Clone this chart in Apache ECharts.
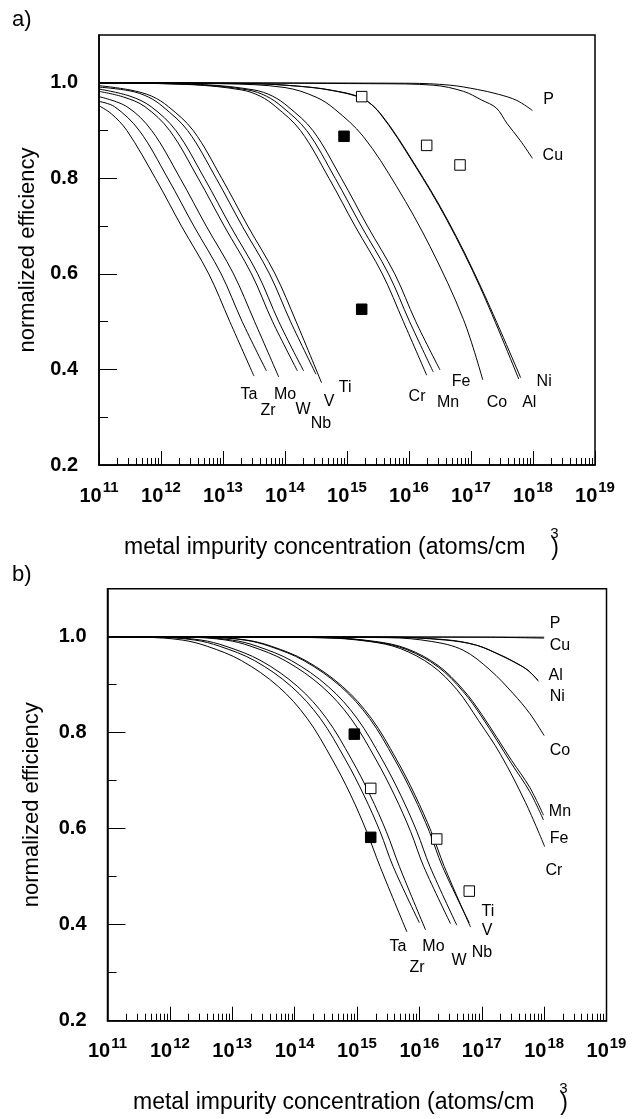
<!DOCTYPE html>
<html>
<head>
<meta charset="utf-8">
<script src="https://cdn.jsdelivr.net/npm/echarts@6/dist/echarts.min.js"></script>
<style>
html, body { margin: 0; padding: 0; background: #fff; }
#chart { width: 635px; height: 1119px; }
</style>
</head>
<body>
<div id="chart"></div>
<script>
// points are [log10(concentration in atoms/cm3), normalized efficiency]

// ---- panel a ----
const aTa = [[11,0.952],[11.2,0.935],[11.45,0.9],[11.91,0.8],[12.33,0.7],[12.77,0.6],[13.11,0.5],[13.5,0.386]];
const aZr = [[11,0.961],[11.25,0.95],[11.65,0.9],[12.11,0.8],[12.53,0.7],[12.97,0.6],[13.31,0.5],[13.7,0.397]];
const aMo = [[11,0.971],[11.45,0.95],[11.85,0.9],[12.31,0.8],[12.73,0.7],[13.17,0.6],[13.51,0.5],[13.9,0.384]];
const aW  = [[11,0.982],[11.4,0.97],[11.74,0.95],[12.14,0.9],[12.6,0.8],[13.02,0.7],[13.46,0.6],[13.8,0.5],[14.2,0.397]];
const aNb = [[11,0.987],[11.5,0.972],[11.84,0.95],[12.24,0.9],[12.7,0.8],[13.12,0.7],[13.56,0.6],[13.9,0.5],[14.3,0.397]];
const aV  = [[11,0.991],[11.5,0.983],[11.8,0.97],[12.03,0.95],[12.43,0.9],[12.89,0.8],[13.31,0.7],[13.75,0.6],[14.09,0.5],[14.5,0.39]];
const aTi = [[11,0.994],[11.5,0.985],[11.85,0.972],[12.12,0.95],[12.52,0.9],[12.98,0.8],[13.4,0.7],[13.84,0.6],[14.18,0.5],[14.59,0.372]];
const aCr = [[11,1.0],[12.5,0.996],[13.3,0.985],[13.6,0.972],[13.85,0.95],[14.25,0.9],[14.71,0.8],[15.13,0.7],[15.57,0.6],[15.91,0.5],[16.285,0.388]];
const aMn = [[11,1.0],[12.6,0.996],[13.4,0.985],[13.7,0.972],[13.95,0.95],[14.35,0.9],[14.81,0.8],[15.23,0.7],[15.67,0.6],[16.01,0.5],[16.39,0.395]];
const aFe = [[11,1.0],[12.7,0.996],[13.5,0.985],[13.8,0.972],[14.05,0.95],[14.45,0.9],[14.91,0.8],[15.33,0.7],[15.77,0.6],[16.11,0.5],[16.5,0.399]];
const aCo = [[11,1.0],[13.0,0.998],[14.0,0.99],[14.5,0.97],[14.8,0.945],[15.26,0.888],[15.8,0.783],[16.34,0.657],[16.88,0.504],[17.19,0.378]];
const aAl = [[11,1.0],[13.5,0.998],[14.2,0.993],[14.726,0.985],[15.237,0.968],[15.53,0.936],[16.07,0.832],[16.61,0.713],[17.145,0.573],[17.77,0.38]];
const aNi = [[11,1.0],[13.5,0.998],[14.2,0.993],[14.75,0.984],[15.26,0.966],[15.55,0.934],[16.09,0.83],[16.63,0.711],[17.165,0.571],[17.8,0.383]];
const aP  = [[11,1.0],[16,0.999],[16.66,0.995],[17.1,0.986],[17.44,0.976],[17.74,0.963],[17.99,0.942]];
const aCu = [[11,1.0],[15.5,0.998],[16.39,0.995],[16.88,0.982],[17.17,0.964],[17.41,0.947],[17.58,0.915],[17.79,0.88],[17.99,0.842]];
const aOpen   = [[15.237,0.971],[16.285,0.869],[16.823,0.828]];
const aFilled = [[14.952,0.888],[15.237,0.526]];
const aLabelNames = ['Ta','Zr','Mo','W','Nb','V','Ti','Cr','Mn','Fe','Co','Al','Ni','P','Cu'];
const aLabelAt = [[13.42,0.347],[13.726,0.313],[14.0,0.347],[14.29,0.315],[14.58,0.286],[14.71,0.332],[14.97,0.361],
                  [16.13,0.344],[16.63,0.33],[16.84,0.374],[17.42,0.33],[17.94,0.33],[18.18,0.374],[18.25,0.965],[18.32,0.847]];

// ---- panel b ----
const bTa = [[11,1],[11.6,0.999],[12.2,0.993],[12.6,0.98],[13.15,0.95],[13.74,0.896],[14.2,0.83],[14.6,0.745],[14.9,0.67],[15.155,0.594],[15.37,0.521],[15.8,0.385]];
const bZr = [[11,1],[11.8,0.999],[12.4,0.993],[12.8,0.98],[13.36,0.95],[13.95,0.896],[14.41,0.83],[14.81,0.745],[15.11,0.67],[15.37,0.594],[15.58,0.521],[16.0,0.404]];
const bMo = [[11,1],[11.9,0.999],[12.5,0.993],[12.9,0.98],[13.46,0.95],[14.05,0.896],[14.51,0.83],[14.91,0.745],[15.21,0.67],[15.47,0.594],[15.68,0.521],[16.1,0.389]];
const bW  = [[11,1],[12.3,0.999],[12.9,0.993],[13.3,0.98],[13.85,0.95],[14.44,0.896],[14.9,0.83],[15.3,0.745],[15.6,0.67],[15.86,0.594],[16.07,0.521],[16.5,0.402]];
const bNb = [[11,1],[12.4,0.999],[13.0,0.993],[13.4,0.98],[13.95,0.95],[14.54,0.896],[15.0,0.83],[15.4,0.745],[15.7,0.67],[15.96,0.594],[16.17,0.521],[16.6,0.399]];
const bV  = [[11,1],[12.6,0.999],[13.2,0.993],[13.6,0.98],[14.15,0.95],[14.74,0.896],[15.2,0.83],[15.6,0.745],[15.9,0.67],[16.16,0.594],[16.37,0.521],[16.8,0.404]];
const bTi = [[11,1],[12.63,0.999],[13.23,0.993],[13.63,0.98],[14.18,0.95],[14.77,0.896],[15.23,0.83],[15.63,0.745],[15.93,0.67],[16.19,0.594],[16.4,0.521],[16.82,0.395]];
const bCr = [[11,1],[14.4,0.998],[15.2,0.99],[15.7,0.975],[16.2,0.94],[16.6,0.89],[16.95,0.825],[17.3,0.755],[17.7,0.655],[18.01,0.5625]];
const bMn = [[11,1],[14.5,0.998],[15.3,0.99],[15.8,0.975],[16.3,0.94],[16.7,0.89],[17.0,0.838],[17.48,0.742],[17.77,0.686],[17.99,0.628]];
const bFe = [[11,1],[14.5,0.998],[15.3,0.989],[15.8,0.973],[16.3,0.937],[16.7,0.886],[17.0,0.833],[17.48,0.735],[17.77,0.677],[17.99,0.618]];
const bCo = [[11,1],[15.5,0.998],[16.2,0.99],[16.7,0.972],[17.13,0.931],[17.5,0.882],[17.77,0.84],[18.0,0.794]];
const bAl = [[11,1],[15.5,0.999],[16.4,0.994],[16.9,0.983],[17.3,0.962],[17.5,0.949],[17.72,0.932],[17.9,0.91]];
const bNi = [[11,1],[15.5,0.999],[16.42,0.993],[16.92,0.982],[17.32,0.96],[17.52,0.947],[17.74,0.93],[17.91,0.907]];
const bP  = [[11,1],[18,0.999]];
const bCu = [[11,1],[17,0.999],[18,0.997]];
const bOpen   = [[15.22,0.684],[16.278,0.5785],[16.8,0.47]];
const bFilled = [[14.957,0.797],[15.22,0.582]];
const bLabelNames = ['Ta','Zr','Mo','W','Nb','V','Ti','P','Cu','Al','Ni','Co','Mn','Fe','Cr'];
const bLabelAt = [[15.657,0.354],[15.962,0.31],[16.226,0.354],[16.635,0.326],[17.004,0.341],[17.084,0.387],[17.1,0.427],
                  [18.174,1.028],[18.254,0.981],[18.186,0.918],[18.211,0.875],[18.254,0.7625],[18.254,0.635],[18.238,0.58],[18.158,0.5125]];

// axis ticks
const xDecades = [1e11,1e12,1e13,1e14,1e15,1e16,1e17,1e18,1e19];
const yMajor = [0.2,0.4,0.6,0.8,1.0];
const yMinor = [0.3,0.5,0.7,0.9];

const FONT = "'Liberation Sans', Arial, Helvetica, sans-serif";
const xMinor = [];
for (let e = 11; e < 19; e++) for (let k = 2; k <= 9; k++) xMinor.push(k * Math.pow(10, e));

const toXY = pts => pts.map(p => [Math.pow(10, p[0]), p[1]]);

function curve(pts, gi) {
  return {
    type: 'line', xAxisIndex: gi * 2, yAxisIndex: gi * 2,
    data: toXY(pts), smooth: 0.35, symbol: 'none', silent: true,
    lineStyle: { color: '#000', width: 1 }, z: 3
  };
}
function squares(pts, gi, filled) {
  return {
    type: 'scatter', xAxisIndex: gi * 2, yAxisIndex: gi * 2,
    data: toXY(pts), symbol: 'rect', symbolSize: 10.5, silent: true, z: 5,
    itemStyle: { color: filled ? '#000' : '#fff', borderColor: '#000', borderWidth: 1, opacity: 1 }
  };
}
function labels(names, at, gi) {
  return {
    type: 'scatter', xAxisIndex: gi * 2, yAxisIndex: gi * 2, symbolSize: 0, silent: true, z: 6,
    itemStyle: { opacity: 1 },
    data: names.map((n, i) => ({ name: n, value: [Math.pow(10, at[i][0]), at[i][1]] })),
    label: { show: true, position: 'inside', formatter: p => p.name, color: '#000', fontSize: 16, fontFamily: FONT }
  };
}

function xAxes(gi) {
  return [{
    type: 'log', gridIndex: gi, min: 1e11, max: 1e19, position: 'bottom',
    axisLine: { show: true, lineStyle: { color: '#000', width: 1.5 } },
    axisTick: { show: true, inside: true, length: 14, customValues: xDecades, lineStyle: { color: '#000', width: 1 } },
    axisLabel: {
      show: true, customValues: xDecades, margin: 13,
      formatter: v => '{b|10}{s|' + Math.round(Math.log10(v)) + '}',
      rich: {
        b: { fontSize: 20, fontWeight: 'bold', fontFamily: FONT, color: '#000', padding: [8, 0, 0, 0] },
        s: { fontSize: 15, fontWeight: 'bold', fontFamily: FONT, color: '#000', padding: [0, 0, 8, 1] }
      }
    },
    splitLine: { show: false }
  }, {
    type: 'log', gridIndex: gi, min: 1e11, max: 1e19, position: 'bottom',
    axisLine: { show: false },
    axisTick: { show: true, inside: true, length: 7, customValues: xMinor, lineStyle: { color: '#000', width: 1 } },
    axisLabel: { show: false },
    splitLine: { show: false }
  }];
}
function yAxes(gi, gap) {
  return [{
    type: 'value', gridIndex: gi, min: 0.2, max: 1.1, position: 'left',
    axisLine: { show: true, lineStyle: { color: '#000', width: 1.5 } },
    axisTick: { show: true, inside: true, length: 18, customValues: yMajor, lineStyle: { color: '#000', width: 1 } },
    axisLabel: { customValues: yMajor, formatter: v => v.toFixed(1), margin: 21, color: '#000', fontSize: 20, fontWeight: 'bold', fontFamily: FONT },
    splitLine: { show: false },
    name: 'normalized efficiency', nameLocation: 'middle', nameGap: gap,
    nameTextStyle: { fontSize: 22, color: '#000', fontFamily: FONT }
  }, {
    type: 'value', gridIndex: gi, min: 0.2, max: 1.1, position: 'left',
    axisLine: { show: false },
    axisTick: { show: true, inside: true, length: 9, customValues: yMinor, lineStyle: { color: '#000', width: 1 } },
    axisLabel: { show: false },
    splitLine: { show: false }
  }];
}

// x axis title with the odd superscript "3" sitting above ")"
const TITLE_SIZE = 23;
const ctx = document.createElement('canvas').getContext('2d');
ctx.font = TITLE_SIZE + 'px ' + FONT;
const titleText = 'metal impurity concentration (atoms/cm';
const titleW = ctx.measureText(titleText).width;
function xTitle(x, y) {
  return [
    { type: 'text', x: x, y: y, style: { text: titleText, fontSize: TITLE_SIZE, fontFamily: FONT, fill: '#000', verticalAlign: 'middle' } },
    { type: 'text', x: x + titleW + 25, y: y - 14, style: { text: '3', fontSize: 15, fontFamily: FONT, fill: '#000', verticalAlign: 'middle' } },
    { type: 'text', x: x + titleW + 26, y: y + 1, style: { text: ')', fontSize: TITLE_SIZE, fontFamily: FONT, fill: '#000', verticalAlign: 'middle' } }
  ];
}

const series = [];
[aTa, aZr, aMo, aW, aNb, aV, aTi, aCr, aMn, aFe, aCo, aAl, aNi, aP, aCu].forEach(c => series.push(curve(c, 0)));
[bTa, bZr, bMo, bW, bNb, bV, bTi, bCr, bMn, bFe, bCo, bAl, bNi, bP, bCu].forEach(c => series.push(curve(c, 1)));
series.push(squares(aOpen, 0, false), squares(aFilled, 0, true), squares(bOpen, 1, false), squares(bFilled, 1, true));
series.push(labels(aLabelNames, aLabelAt, 0), labels(bLabelNames, bLabelAt, 1));

const chart = echarts.init(document.getElementById('chart'), null, { renderer: 'canvas' });
chart.setOption({
  backgroundColor: '#fff',
  animation: false,
  grid: [
    { left: 99, top: 35, width: 496, height: 430, show: true, borderColor: '#000', borderWidth: 1.5, backgroundColor: 'transparent' },
    { left: 107.5, top: 588.7, width: 499, height: 432, show: true, borderColor: '#000', borderWidth: 1.5, backgroundColor: 'transparent' }
  ],
  xAxis: [...xAxes(0), ...xAxes(1)],
  yAxis: [...yAxes(0, 57), ...yAxes(1, 65)],
  graphic: [
    { type: 'text', x: 12, y: 20, style: { text: 'a)', fontSize: 22, fontFamily: FONT, fill: '#000', verticalAlign: 'middle' } },
    { type: 'text', x: 12, y: 575, style: { text: 'b)', fontSize: 22, fontFamily: FONT, fill: '#000', verticalAlign: 'middle' } },
    ...xTitle(124, 548),
    ...xTitle(133, 1103)
  ],
  series: series
});
</script>
</body>
</html>
